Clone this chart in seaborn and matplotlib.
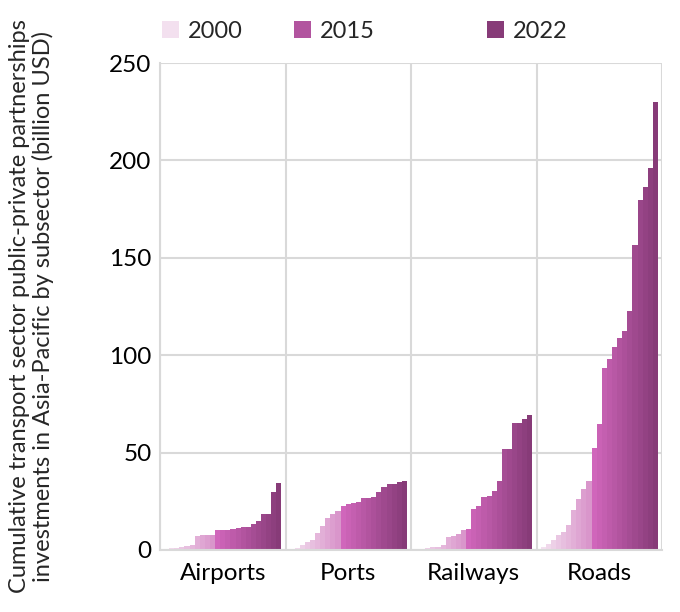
import numpy as np
import pandas as pd
import seaborn as sns
import matplotlib.pyplot as plt
from matplotlib.colors import to_rgb, to_hex
from matplotlib.patches import Patch

subsectors = ['Airports', 'Ports', 'Railways', 'Roads']
years = list(range(2000, 2023))
airports = [0.3, 1.0, 1.0, 1.5, 2.1, 2.7, 7.3, 7.9, 7.9, 7.9, 10.3, 10.3,
            10.3, 10.8, 11.3, 11.8, 11.8, 13.3, 14.9, 18.5, 18.5, 29.8, 34.4]
ports = [0.5, 1.2, 2.6, 4.1, 5.1, 8.7, 12.3, 16.4, 18.5, 20.0, 22.6, 23.6,
         24.1, 24.6, 26.7, 26.7, 27.2, 29.8, 32.3, 33.9, 33.9, 34.9, 35.4]
railways = [0.3, 0.7, 1.2, 1.7, 1.7, 2.7, 6.8, 7.3, 8.4, 10.3, 10.8, 21.0,
            22.6, 27.2, 27.7, 30.3, 35.4, 51.8, 51.8, 65.2, 65.2, 67.2, 69.3]
roads = [1.5, 3.2, 5.0, 7.7, 9.3, 12.9, 20.4, 26.0, 31.1, 35.2, 52.6, 64.9,
         93.6, 98.2, 104.4, 109.0, 112.6, 122.9, 156.8, 179.8, 186.5, 196.2, 230.0]
legend_years = [2000, 2015, 2022]
y_ticks = [0, 50, 100, 150, 200, 250]
ylabel = ('Cumulative transport sector public-private partnerships\n'
          'investments in Asia-Pacific by subsector (billion USD)')

rows = []
for name, vals in zip(subsectors, [airports, ports, railways, roads]):
    for yr, v in zip(years, vals):
        rows.append({'subsector': name, 'year': str(yr), 'value': v})
df = pd.DataFrame(rows)

# colour ramp: light pink -> bright pink (2010) -> dark plum (2022)
def ramp(c0, c1, n):
    a, b = np.array(to_rgb(c0)), np.array(to_rgb(c1))
    return [to_hex(a + (b - a) * t) for t in np.linspace(0, 1, n)]

palette = ramp('#f3e0ef', '#d996cb', 10) + ramp('#d066bb', '#873b78', 13)

sns.set_style('white')
plt.rcParams['font.family'] = ['Lato', 'DejaVu Sans']

fig = plt.figure(figsize=(6.8, 6.12), dpi=100)
ax = fig.add_axes([160 / 680, 1 - 550 / 612, 502 / 680, 487 / 612])

sns.barplot(data=df, x='subsector', y='value', hue='year',
            hue_order=[str(y) for y in years], order=subsectors,
            palette=palette, saturation=1, width=0.935, gap=0,
            linewidth=0, edgecolor='none', legend=False, ax=ax)

ax.set_xlim(-0.5, 3.5)
ax.set_ylim(0, 250)
ax.set_yticks(y_ticks)
ax.yaxis.grid(True, color='#d9d9d9', lw=1.5)
ax.set_axisbelow(True)
for xv in np.arange(-0.5, 4, 1):
    ax.axvline(xv, color='#d9d9d9', lw=1.5, zorder=0)
for s in ['top', 'right']:
    ax.spines[s].set_visible(False)
for s in ['left', 'bottom']:
    ax.spines[s].set_color('#d9d9d9')
    ax.spines[s].set_linewidth(1.5)
ax.tick_params(axis='both', length=0, labelsize=17.5, colors='black')
ax.tick_params(axis='x', pad=9)
ax.tick_params(axis='y', pad=6)
ax.set_xlabel('')
ax.set_ylabel('')

fig.text(0.046, 0.5, ylabel, rotation=90, ha='center', va='center',
         fontsize=17, multialignment='center', linespacing=1.1)

# legend, one entry each, spaced as in the original
leg_x = [162, 294, 487]
for yr, xp in zip(legend_years, leg_x):
    h = Patch(facecolor=palette[years.index(yr)], edgecolor='none')
    leg = fig.legend([h], [str(yr)], loc='center left',
                     bbox_to_anchor=(xp / 680, 1 - 31 / 612), frameon=False,
                     fontsize=17, handlelength=0.7, handleheight=0.7,
                     handletextpad=0.4, borderpad=0, borderaxespad=0)

fig.savefig('out.png', dpi=100)
